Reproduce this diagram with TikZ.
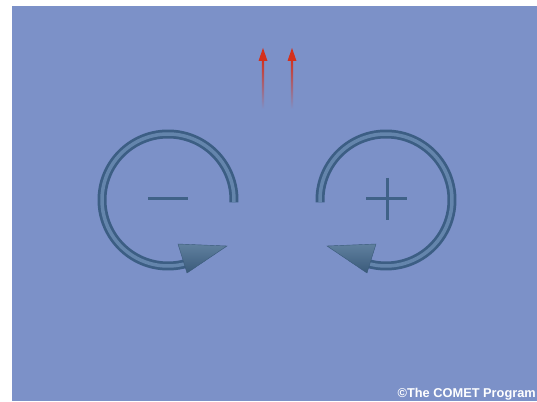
\documentclass[tikz,border=0pt]{standalone}
\usepackage{fontspec}
\setsansfont{Liberation Sans}
\definecolor{bgblue}{RGB}{124,145,200}
\definecolor{tubedark}{RGB}{60,94,132}
\definecolor{tubelight}{RGB}{100,133,172}
\definecolor{signcol}{RGB}{64,98,136}
\definecolor{conecol}{RGB}{78,114,148}
\definecolor{conedark}{RGB}{58,90,122}
\definecolor{flowred}{RGB}{212,48,28}

\begin{document}
\begin{tikzpicture}[
      x=1pt, y=1pt,
      tube/.style={line width=9pt, draw=tubedark},
      tubecore/.style={line width=3.5pt, draw=tubelight},
      sign/.style={line width=3pt, draw=signcol},
      cone/.style={top color=conecol!90!white, bottom color=conedark, draw=conedark, line width=0.4pt},
      flowhead/.style={fill=flowred},
      every node/.style={font=\sffamily\bfseries}
    ]
      \useasboundingbox (0,0) rectangle (537,401);
      \clip (0,0) rectangle (537,401);
      \fill[white] (0,0) rectangle (537,401);
      \fill[bgblue] (12,0) rectangle (537,395);

      \coordinate (lc) at (168,201);
      \coordinate (rc) at (386,201);

      % negative vortex
      \draw[tube] ([shift={(-2:66)}]lc) arc (-2:285:66);
      \draw[tubecore] ([shift={(-2:66)}]lc) arc (-2:285:66);
      \shade[cone] ([shift={(10,-44)}]lc) -- ([shift={(59,-46)}]lc) -- ([shift={(19,-73)}]lc) -- cycle;
      \draw[sign] ([shift={(-20,1)}]lc) -- ([shift={(20,1)}]lc);

      % positive vortex
      \draw[tube] ([shift={(182:66)}]rc) arc (182:-105:66);
      \draw[tubecore] ([shift={(182:66)}]rc) arc (182:-105:66);
      \shade[cone] ([shift={(-10,-44)}]rc) -- ([shift={(-59,-46)}]rc) -- ([shift={(-19,-73)}]rc) -- cycle;
      \draw[sign] ([shift={(-20,1)}]rc) -- ([shift={(21,1)}]rc);
      \draw[sign] ([shift={(1,22)}]rc) -- ([shift={(1,-20)}]rc);

      % flow arrows
      \foreach \fx in {263,292} {
        \shade[top color=flowred, middle color=flowred!60!bgblue, bottom color=bgblue]
          (\fx-1.2,292) rectangle (\fx+1.2,342);
        \fill[flowhead] (\fx,353) -- (\fx-4.5,340) -- (\fx+4.5,340) -- cycle;
      }

      \node[white, font=\sffamily\bfseries\fontsize{12.8}{15}\selectfont, anchor=base east, inner sep=0pt]
        (credit) at (536,4) {©The COMET Program};
    \end{tikzpicture}
\end{document}
